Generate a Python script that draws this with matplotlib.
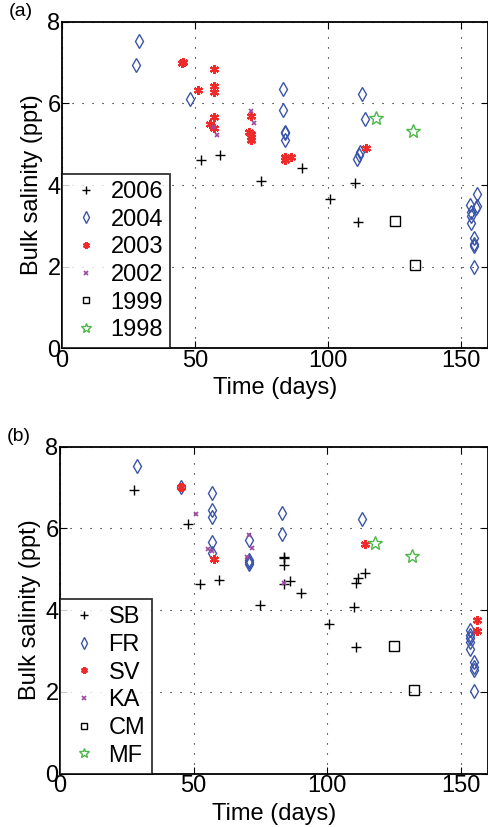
import matplotlib
matplotlib.use("Agg")
import matplotlib.pyplot as plt

plt.rcParams["font.family"] = ["Liberation Sans", "DejaVu Sans"]

# ---- panel (a): by year ----
y2006_t = [52.2, 59.3, 74.9, 90.2, 110.1, 100.7, 111.1]
y2006_s = [4.62, 4.74, 4.10, 4.43, 4.06, 3.65, 3.10]

y2004_t = [29.0, 28.0, 48.1, 83.1, 83.1, 83.8, 83.8, 83.8, 112.9, 113.9, 111.0, 111.6, 112.1,
           156.0, 153.5, 156.0, 155.5, 153.8, 153.8, 153.8, 155.0, 155.0, 155.0, 155.0]
y2004_s = [7.52, 6.94, 6.11, 6.35, 5.85, 5.31, 5.27, 5.10, 6.24, 5.62, 4.64, 4.73, 4.80,
           3.78, 3.52, 3.49, 3.45, 3.33, 3.25, 3.08, 2.70, 2.55, 2.50, 2.00]

y2003_t = [45.3, 45.0, 57.0, 57.0, 57.0, 51.0, 57.0, 55.7, 57.0, 71.0, 70.2, 71.0, 71.0, 71.0,
           83.8, 86.1, 83.8, 114.1]
y2003_s = [7.02, 7.00, 6.84, 6.44, 6.29, 6.34, 5.66, 5.49, 5.40, 5.70, 5.31, 5.25, 5.17, 5.10,
           4.68, 4.69, 4.62, 4.90]

y2002_t = [71.0, 72.2, 57.0, 58.1]
y2002_s = [5.82, 5.52, 5.43, 5.22]

y1999_t = [125.1, 132.8]
y1999_s = [3.12, 2.03]

y1998_t = [117.9, 131.9]
y1998_s = [5.65, 5.33]

# ---- panel (b): by location ----
sb_t = [27.8, 47.9, 52.2, 59.3, 74.8, 83.8, 83.8, 83.8, 86.0, 83.8, 90.0, 110.0, 110.9, 111.6, 114.0,
        100.7, 110.9]
sb_s = [6.94, 6.11, 4.64, 4.74, 4.13, 5.30, 5.27, 5.10, 4.70, 4.64, 4.43, 4.08, 4.67, 4.78, 4.90,
        3.67, 3.10]

fr_t = [28.9, 45.2, 56.8, 56.8, 56.8, 56.8, 56.8, 70.8, 70.8, 70.8, 70.8, 83.0, 83.0, 112.9,
        153.5, 153.5, 153.5, 153.5, 153.5, 154.8, 154.8, 154.8, 154.8]
fr_s = [7.52, 7.02, 6.86, 6.45, 6.28, 5.67, 5.39, 5.71, 5.18, 5.14, 5.22, 6.37, 5.85, 6.24,
        3.51, 3.39, 3.31, 3.22, 3.06, 2.73, 2.61, 2.53, 2.02]

sv_t = [45.2, 57.6, 114.0, 155.9, 155.9]
sv_s = [7.02, 5.24, 5.62, 3.77, 3.49]

ka_t = [50.9, 55.5, 56.8, 70.8, 72.0, 69.8, 83.8]
ka_s = [6.34, 5.49, 5.45, 5.83, 5.52, 5.30, 4.67]

cm_t = [124.9, 132.6]
cm_s = [3.13, 2.04]

mf_t = [117.7, 131.8]
mf_s = [5.65, 5.33]

labels_a = ["2006", "2004", "2003", "2002", "1999", "1998"]
labels_b = ["SB", "FR", "SV", "KA", "CM", "MF"]

blue = "#3b55a8"
red = "#ee2a2a"
purple = "#9a4aa0"
green = "#4cb848"

styles = [
    dict(marker="+", color="black", ms=7, mew=1.0, mfc="none"),
    dict(marker="d", color=blue, ms=7.5, mew=1.0, mfc="none"),
    dict(marker=(6, 2, 0), color=red, ms=6.5, mew=1.6, mfc=red),
    dict(marker="x", color=purple, ms=3.5, mew=1.2, mfc="none"),
    dict(marker="s", color="black", ms=6.5, mew=1.0, mfc="none"),
    dict(marker="*", color=green, ms=10, mew=1.0, mfc="none"),
]

fig = plt.figure(figsize=(4.89, 8.27), dpi=100)
ax_a = fig.add_axes([0.1268, 0.5788, 0.8705, 0.3948])
ax_b = fig.add_axes([0.1227, 0.0645, 0.8746, 0.3955])

data_a = [(y2006_t, y2006_s), (y2004_t, y2004_s), (y2003_t, y2003_s),
          (y2002_t, y2002_s), (y1999_t, y1999_s), (y1998_t, y1998_s)]
data_b = [(sb_t, sb_s), (fr_t, fr_s), (sv_t, sv_s),
          (ka_t, ka_s), (cm_t, cm_s), (mf_t, mf_s)]

for ax, data, labels, tag in [(ax_a, data_a, labels_a, "(a)"), (ax_b, data_b, labels_b, "(b)")]:
    handles = []
    for (t, s), st, lab in zip(data, styles, labels):
        h, = ax.plot(t, s, linestyle="none", label=lab, zorder=3, **st)
        handles.append(h)
    ax.set_xlim(0, 160)
    ax.set_ylim(0, 8)
    ax.set_xticks([0, 50, 100, 150])
    ax.set_yticks([0, 2, 4, 6, 8])
    ax.grid(True, linestyle=(0, (1, 8)), color="black", linewidth=0.8)
    ax.tick_params(direction="in", top=True, right=True, labelsize=17, length=5, pad=1)
    for sp in ax.spines.values():
        sp.set_linewidth(1.3)
    ax.set_xlabel("Time (days)", fontsize=17, labelpad=4)
    ax.set_ylabel("Bulk salinity (ppt)", fontsize=17, labelpad=3)
    leg = ax.legend(handles=handles, loc="lower left", fontsize=17, frameon=True,
                    fancybox=False, borderaxespad=0, handlelength=1.4, handletextpad=0.35,
                    labelspacing=0.24, borderpad=0.3, markerscale=0.75)
    leg.get_frame().set_edgecolor("black")
    leg.get_frame().set_linewidth(1.3)
    ax.text(-0.125, 1.005, tag, transform=ax.transAxes, fontsize=14, va="bottom", ha="left")

fig.savefig("out.png", dpi=100)
